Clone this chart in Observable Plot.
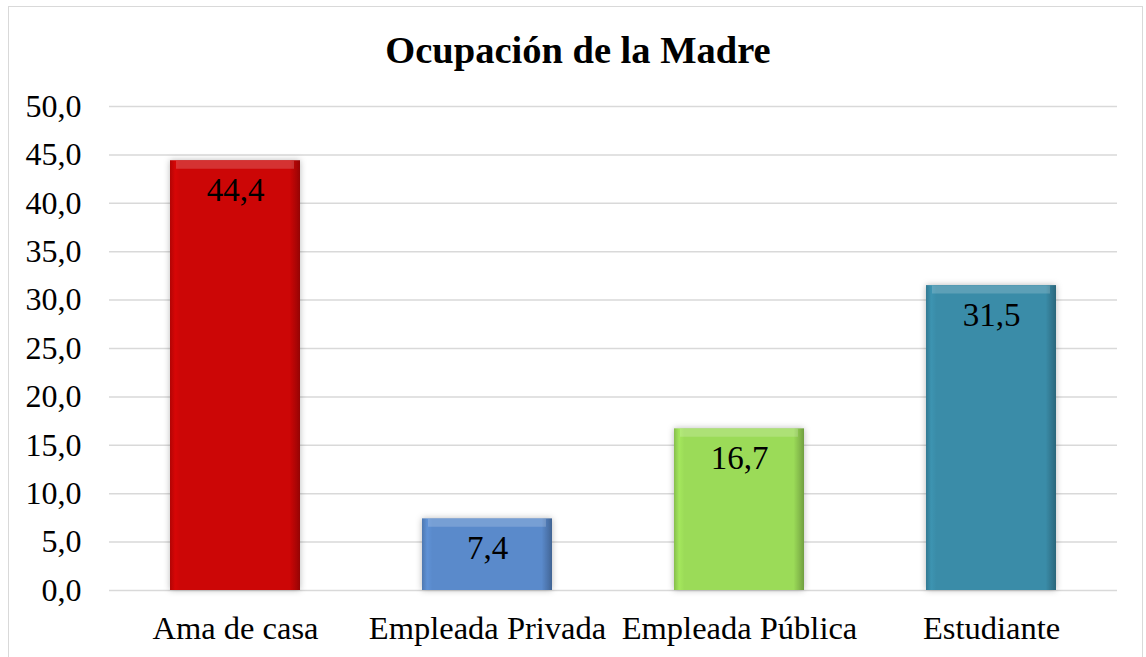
<!DOCTYPE html>
<html>
<head>
<meta charset="utf-8">
<script src="https://cdn.jsdelivr.net/npm/d3@7"></script>
<script src="https://cdn.jsdelivr.net/npm/@observablehq/plot@0.6"></script>
<style>
  html, body { margin: 0; padding: 0; background: #fff; }
  #wrap { position: relative; width: 1146px; height: 657px; overflow: hidden; background: #fff; }
  #frame { position: absolute; left: 8px; top: 6px; width: 1135px; height: 700px; border: 1.5px solid #d9d9d9; box-sizing: border-box; }
  #title { position: absolute; left: 0; top: 27px; width: 1156px; text-align: center; font-family: "Liberation Serif", "Times New Roman", serif; font-weight: bold; font-size: 38.5px; color: #000; line-height: 46px; }
  #chart { position: absolute; left: 0; top: 90px; }
  #chart svg { overflow: visible; }
  #chart g[aria-label="bar"] rect { filter: drop-shadow(0 0 3px rgba(0,0,0,0.28)); }
  #chart g[aria-label="y-axis tick label"] { font-size: 32px; }
  #chart g[aria-label="x-axis tick label"] { font-size: 32.5px; }
</style>
</head>
<body>
<div id="wrap">
  <div id="frame"></div>
  <div id="title">Ocupación de la Madre</div>
  <div id="chart"></div>
</div>
<script>
const categories = ["Ama de casa", "Empleada Privada", "Empleada Pública", "Estudiante"];
const values = [44.4, 7.4, 16.7, 31.5];
const yTicks = [0, 5, 10, 15, 20, 25, 30, 35, 40, 45, 50];
const baseColors = ["#cc0606", "#5a8acb", "#9bdb58", "#3a8ca8"];
const gradIds = ["gRed", "gBlue", "gGreen", "gTeal"];

const data = categories.map((c, i) => ({ cat: c, value: values[i] }));
const fmt = v => d3.format(".1f")(v).replace(".", ",");

const plot = Plot.plot({
  width: 1146,
  height: 567,
  marginTop: 16,
  marginBottom: 67,
  marginLeft: 109,
  marginRight: 29,
  style: { fontFamily: "'Liberation Serif', 'Times New Roman', serif", fontSize: "30px", color: "#000", background: "transparent" },
  x: { domain: categories, paddingInner: 0.484, paddingOuter: 0.242, label: null, tickSize: 0, tickPadding: 25 },
  y: { domain: [0, 50], ticks: yTicks, tickFormat: fmt, label: null, tickSize: 0, tickPadding: 28 },
  color: { domain: categories, range: gradIds.map(id => `url(#${id})`) },
  marks: [
    Plot.ruleY(yTicks, { stroke: "#d9d9d9", strokeWidth: 1.5 }),
    Plot.barY(data, { x: "cat", y: "value", fill: "cat" }),
    Plot.tickY(data, { x: "cat", y: "value", stroke: "#ffffff", strokeOpacity: 0.18, strokeWidth: 8, dy: 4, insetLeft: 6, insetRight: 6 }),
    Plot.text(data, { x: "cat", y: "value", text: d => fmt(d.value), dy: 30, fontSize: 33, fill: "#000" })
  ]
});

// gradient defs for bevel look
const ns = "http://www.w3.org/2000/svg";
const defs = document.createElementNS(ns, "defs");
baseColors.forEach((col, i) => {
  const c = d3.color(col);
  const g = document.createElementNS(ns, "linearGradient");
  g.setAttribute("id", gradIds[i]);
  g.setAttribute("x1", "0"); g.setAttribute("x2", "1"); g.setAttribute("y1", "0"); g.setAttribute("y2", "0");
  const stops = [
    [0, c.darker(0.4)], [0.04, c.brighter(0.15)], [0.08, c], [0.92, c], [0.97, c.darker(0.5)], [1, c.darker(0.9)]
  ];
  stops.forEach(([o, cc]) => {
    const s = document.createElementNS(ns, "stop");
    s.setAttribute("offset", o);
    s.setAttribute("stop-color", cc.formatHex());
    g.appendChild(s);
  });
  defs.appendChild(g);
});
plot.insertBefore(defs, plot.firstChild);

document.getElementById("chart").appendChild(plot);
</script>
</body>
</html>
